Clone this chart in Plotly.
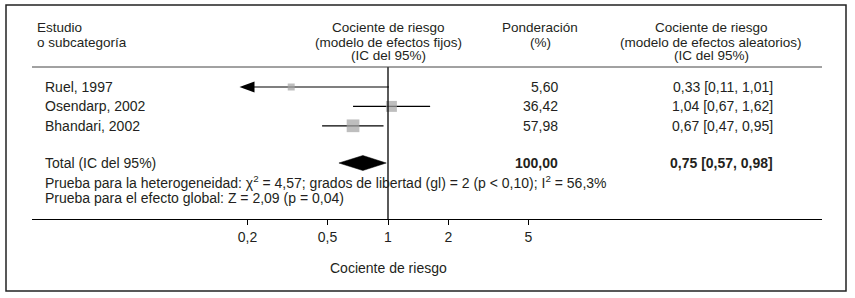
import numpy as np
import plotly.graph_objects as go

# ---------------- data ----------------
studies = ["Ruel, 1997", "Osendarp, 2002", "Bhandari, 2002"]
rr = [0.33, 1.04, 0.67]
ci_lo = [0.11, 0.67, 0.47]
ci_hi = [1.01, 1.62, 0.95]
weights = [5.60, 36.42, 57.98]
weight_labels = ["5,60", "36,42", "57,98"]
ci_labels = ["0,33 [0,11, 1,01]", "1,04 [0,67, 1,62]", "0,67 [0,47, 0,95]"]
total_rr = 0.75
total_lo = 0.57
total_hi = 0.98
total_weight_label = "100,00"
total_ci_label = "0,75 [0,57, 0,98]"
tick_vals = [0.2, 0.5, 1, 2, 5]
tick_labels = ["0,2", "0,5", "1", "2", "5"]
het_text = ("Prueba para la heterogeneidad: \u03c7<sup>2</sup> = 4,57; grados de libertad (gl) = 2 "
            "(p &lt; 0,10); I<sup>2</sup> = 56,3%")
overall_text = "Prueba para el efecto global: Z = 2,09 (p = 0,04)"

# ---------------- layout geometry ----------------
W, H = 855, 298
FONT = "Liberation Sans, Arial, Helvetica, sans-serif"
FS_HDR = 13.5
FS = 14
TXT = "#231f20"
X_NULL_PX = 388.0
PX_PER_DEC = 201.0
AX_L, AX_R = 32, 822
AX_Y = 219
HDR_Y = 67
ROW0, ROW_STEP = 87, 19.4
TOTAL_Y = 163
HET_Y = 182
OVR_Y = 198
DISP_LO, DISP_HI = min(tick_vals), max(tick_vals)


def px(x):
    return x / W


def py(y):
    return 1 - y / H


x_range = [(AX_L - X_NULL_PX) / PX_PER_DEC, (AX_R - X_NULL_PX) / PX_PER_DEC]

fig = go.Figure()
shapes = []
annotations = []

row_y = [ROW0 + i * ROW_STEP for i in range(len(studies))]

# CI lines, squares, arrows
for i, name in enumerate(studies):
    lo = max(ci_lo[i], DISP_LO)
    hi = min(ci_hi[i], DISP_HI)
    fig.add_trace(go.Scatter(x=[lo, hi], y=[row_y[i], row_y[i]], mode="lines",
                             line=dict(color="black", width=1.2), hoverinfo="skip",
                             showlegend=False))
    if ci_lo[i] < DISP_LO:
        shapes.append(dict(type="path", xref="x", yref="y", xsizemode="pixel",
                           ysizemode="pixel", xanchor=DISP_LO, yanchor=row_y[i],
                           path="M-8,0 L7,5.5 L7,-5.5 Z", fillcolor="black",
                           line=dict(width=0)))

sizes = [4.4 + 1.09 * np.sqrt(w) for w in weights]
fig.add_trace(go.Scatter(x=rr, y=row_y, mode="markers",
                         marker=dict(symbol="square", size=sizes, color="#a3a3a3",
                                     line=dict(width=0)),
                         hoverinfo="skip", showlegend=False))

# diamond
dh = 7.5
fig.add_trace(go.Scatter(x=[total_lo, total_rr, total_hi, total_rr, total_lo],
                         y=[TOTAL_Y, TOTAL_Y - dh, TOTAL_Y, TOTAL_Y + dh, TOTAL_Y],
                         mode="lines", fill="toself", fillcolor="black",
                         line=dict(color="black", width=0.5), hoverinfo="skip",
                         showlegend=False))

# null line
shapes.append(dict(type="line", xref="x", yref="y", x0=1, x1=1, y0=HDR_Y, y1=AX_Y,
                   line=dict(color="black", width=1.3)))
# header rule
shapes.append(dict(type="line", xref="paper", yref="paper", x0=px(AX_L), x1=px(AX_R),
                   y0=py(HDR_Y), y1=py(HDR_Y), line=dict(color="#444444", width=1)))
# frame
shapes.append(dict(type="rect", xref="paper", yref="paper", x0=px(6), x1=px(846),
                   y0=py(291), y1=py(5), line=dict(color="#222222", width=1.5)))


def ann(text, x, y, anchor="left", bold=False, size=FS):
    if bold:
        text = "<b>" + text + "</b>"
    annotations.append(dict(text=text, x=px(x), y=py(y), xref="paper", yref="paper",
                            xanchor=anchor, yanchor="middle", showarrow=False,
                            font=dict(family=FONT, size=size, color=TXT)))


# headers
ann("Estudio", 35, 27, size=FS_HDR)
ann("o subcategoría", 35, 42, size=FS_HDR)
for t, y in zip(["Cociente de riesgo", "(modelo de efectos fijos)", "(IC del 95%)"], [27, 42, 56]):
    ann(t, 388, y, "center", size=FS_HDR)
for t, y in zip(["Ponderación", "(%)"], [27, 42]):
    ann(t, 540, y, "center", size=FS_HDR)
for t, y in zip(["Cociente de riesgo", "(modelo de efectos aleatorios)", "(IC del 95%)"], [27, 42, 56]):
    ann(t, 711, y, "center", size=FS_HDR)

# rows
for i, name in enumerate(studies):
    ann(name, 43, row_y[i])
    ann(weight_labels[i], 560, row_y[i], "right")
    ann(ci_labels[i], 775, row_y[i], "right")

ann("Total (IC del 95%)", 43, TOTAL_Y)
ann(total_weight_label, 560, TOTAL_Y, "right", bold=True)
ann(total_ci_label, 775, TOTAL_Y, "right", bold=True)
ann(het_text, 43, HET_Y)
ann(overall_text, 43, OVR_Y)
ann("Cociente de riesgo", X_NULL_PX, 268, "center")

fig.update_layout(
    width=W, height=H, autosize=False,
    margin=dict(l=0, r=0, t=0, b=0),
    paper_bgcolor="white", plot_bgcolor="white",
    showlegend=False,
    shapes=shapes, annotations=annotations,
    font=dict(family=FONT, size=FS, color=TXT),
    xaxis=dict(type="log", domain=[px(AX_L), px(AX_R)], range=x_range,
               tickvals=tick_vals, ticktext=tick_labels, ticks="outside", ticklen=5,
               tickwidth=1, tickcolor="black", showline=True, linecolor="black",
               linewidth=1.3, showgrid=False, zeroline=False,
               tickfont=dict(family=FONT, size=FS, color=TXT), fixedrange=True),
    yaxis=dict(domain=[py(AX_Y), 1], range=[AX_Y, 0], visible=False,
               showgrid=False, zeroline=False, fixedrange=True),
)

fig.write_html("out.html", config={"displayModeBar": False},
               post_script="document.body.style.margin='0';document.body.style.overflow='hidden';")
